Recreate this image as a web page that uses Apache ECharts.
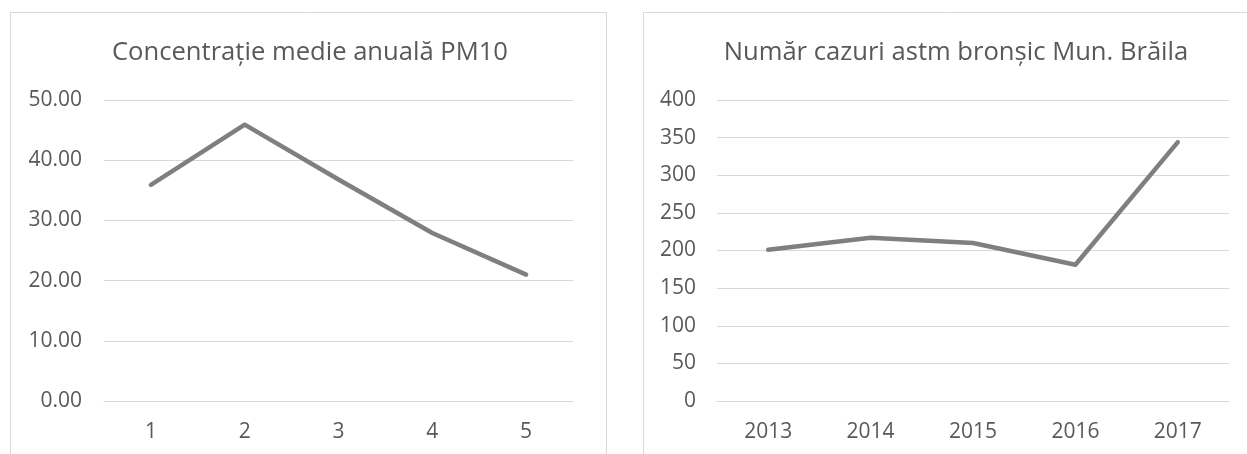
<!DOCTYPE html>
<html>
<head>
<meta charset="utf-8">
<script src="https://cdn.jsdelivr.net/npm/echarts@6/dist/echarts.min.js"></script>
<style>html,body{margin:0;padding:0;background:#fff}#c{width:1247px;height:454px}</style>
</head>
<body>
<div id="c"></div>
<script>
const titleLeft = "Concentrație medie anuală PM10";
const titleRight = "Număr cazuri astm bronșic Mun. Brăila";
const catsLeft = ["1", "2", "3", "4", "5"];
const valsLeft = [35.9, 45.9, 36.8, 27.9, 21.0];
const catsRight = ["2013", "2014", "2015", "2016", "2017"];
const valsRight = [201, 217, 210, 181, 344];

const FONT = "Open Sans";
const txt = "#595959";
const grid = "#d9d9d9";
const lineColor = "#7f7f7f";

const chart = echarts.init(document.getElementById('c'), null, {renderer: 'canvas'});

function xAx(idx, cats) {
  return {
    type: 'category', gridIndex: idx, data: cats, boundaryGap: true,
    axisLine: {show: true, lineStyle: {color: grid, width: 1}},
    axisTick: {show: false},
    axisLabel: {color: txt, fontFamily: FONT, fontSize: 21, margin: 21}
  };
}
function yAx(idx, max, interval, fmt, margin) {
  return {
    type: 'value', gridIndex: idx, min: 0, max: max, interval: interval,
    axisLine: {show: false}, axisTick: {show: false},
    splitLine: {lineStyle: {color: grid, width: 1}},
    axisLabel: {color: txt, fontFamily: FONT, fontSize: 21, margin: margin, formatter: fmt}
  };
}
function ser(idx, vals) {
  return {
    type: 'line', xAxisIndex: idx, yAxisIndex: idx, data: vals,
    showSymbol: false, symbol: 'none',
    lineStyle: {color: lineColor, width: 4.5, cap: 'round', join: 'round'},
    animation: false
  };
}

chart.setOption({
  animation: false,
  graphic: [
    {type: 'rect', shape: {x: 10.5, y: 12.5, width: 596, height: 500}, style: {fill: 'none', stroke: grid, lineWidth: 1}, silent: true, z: -1},
    {type: 'rect', shape: {x: 643.5, y: 12.5, width: 620, height: 500}, style: {fill: 'none', stroke: grid, lineWidth: 1}, silent: true, z: -1}
  ],
  title: [
    {text: titleLeft, left: 305, top: 35, textAlign: 'center',
     textStyle: {color: txt, fontFamily: FONT, fontSize: 25.6, fontWeight: 'normal'}},
    {text: titleRight, left: 951, top: 35, textAlign: 'center',
     textStyle: {color: txt, fontFamily: FONT, fontSize: 25.6, fontWeight: 'normal'}}
  ],
  grid: [
    {left: 104, top: 100, width: 469, height: 301},
    {left: 717, top: 100, width: 512, height: 301}
  ],
  xAxis: [xAx(0, catsLeft), xAx(1, catsRight)],
  yAxis: [
    yAx(0, 50, 10, v => v.toFixed(2), 22),
    yAx(1, 400, 50, v => String(v), 21)
  ],
  series: [ser(0, valsLeft), ser(1, valsRight)]
});
</script>
</body>
</html>
